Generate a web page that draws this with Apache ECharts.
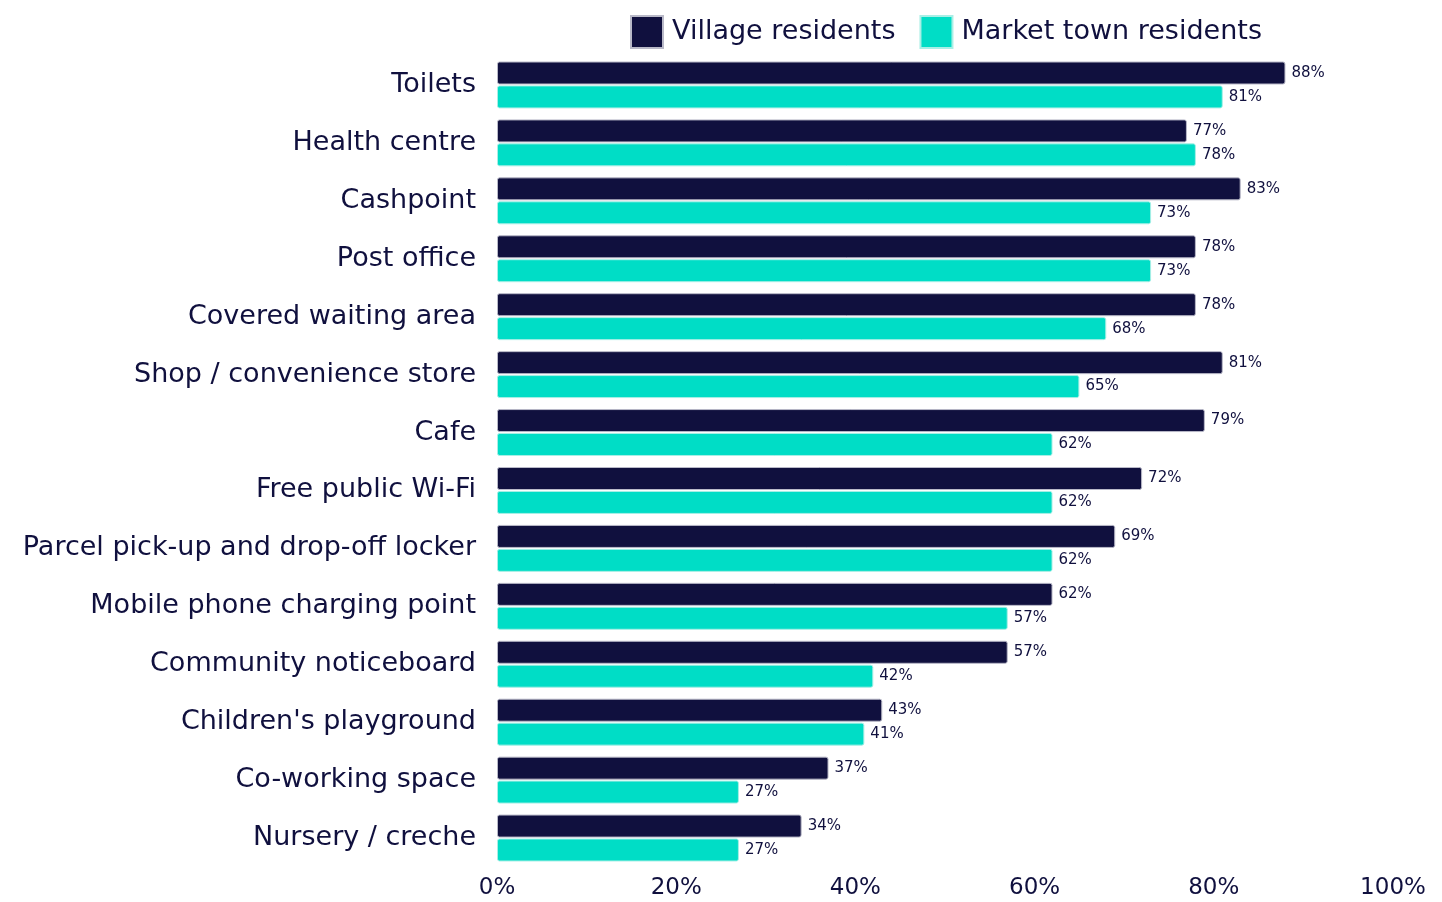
<!DOCTYPE html>
<html>
<head>
<meta charset="utf-8">
<script src="https://cdn.jsdelivr.net/npm/echarts@6/dist/echarts.min.js"></script>
<style>
  html, body { margin: 0; padding: 0; background: #ffffff; }
  #chart { width: 1442px; height: 902px; }
</style>
</head>
<body>
<div id="chart"></div>
<script>
const categories = [
  'Toilets', 'Health centre', 'Cashpoint', 'Post office', 'Covered waiting area',
  'Shop / convenience store', 'Cafe', 'Free public Wi-Fi',
  'Parcel pick-up and drop-off locker', 'Mobile phone charging point',
  'Community noticeboard', "Children's playground", 'Co-working space', 'Nursery / creche'
];
const villageResidents = [88, 77, 83, 78, 78, 81, 79, 72, 69, 62, 57, 43, 37, 34];
const marketTownResidents = [81, 78, 73, 73, 68, 65, 62, 62, 62, 57, 42, 41, 27, 27];
const seriesNames = ['Village residents', 'Market town residents'];
const xTicks = [0, 20, 40, 60, 80, 100];

const NAVY = '#10103e';
const TEAL = '#00ddc6';
const FONT = '"DejaVu Sans"';

const chart = echarts.init(document.getElementById('chart'));

function barSeries(name, values, color, borderColor) {
  return {
    name: name,
    type: 'bar',
    data: values,
    barWidth: 23,
    barGap: '4%',
    itemStyle: { color: color, borderColor: borderColor, borderWidth: 1, borderRadius: 2 },
    label: {
      show: true,
      position: 'right',
      distance: 6,
      formatter: '{c}%',
      color: NAVY,
      fontFamily: FONT,
      fontSize: 15
    }
  };
}

chart.setOption({
  animation: false,
  textStyle: { fontFamily: FONT },
  legend: {
    top: 15,
    left: 630,
    padding: 0,
    itemWidth: 32,
    itemHeight: 32,
    itemGap: 24,
    icon: 'rect',
    textStyle: { fontSize: 27, color: NAVY, fontFamily: FONT, padding: [0, 0, 0, 4] },
    data: seriesNames
  },
  grid: { left: 497, right: 49, top: 56, bottom: 35, containLabel: false },
  xAxis: {
    type: 'value',
    min: xTicks[0],
    max: xTicks[xTicks.length - 1],
    interval: 20,
    axisLine: { show: false },
    axisTick: { show: false },
    splitLine: { show: false },
    axisLabel: {
      formatter: '{value}%',
      color: NAVY,
      fontSize: 23,
      fontFamily: FONT,
      margin: 10
    }
  },
  yAxis: {
    type: 'category',
    inverse: true,
    data: categories,
    axisLine: { show: false },
    axisTick: { show: false },
    axisLabel: {
      color: NAVY,
      fontSize: 27,
      fontFamily: FONT,
      margin: 21
    }
  },
  series: [
    barSeries(seriesNames[0], villageResidents, NAVY, '#b9b9c8'),
    barSeries(seriesNames[1], marketTownResidents, TEAL, '#a8efe6')
  ]
});
</script>
</body>
</html>
